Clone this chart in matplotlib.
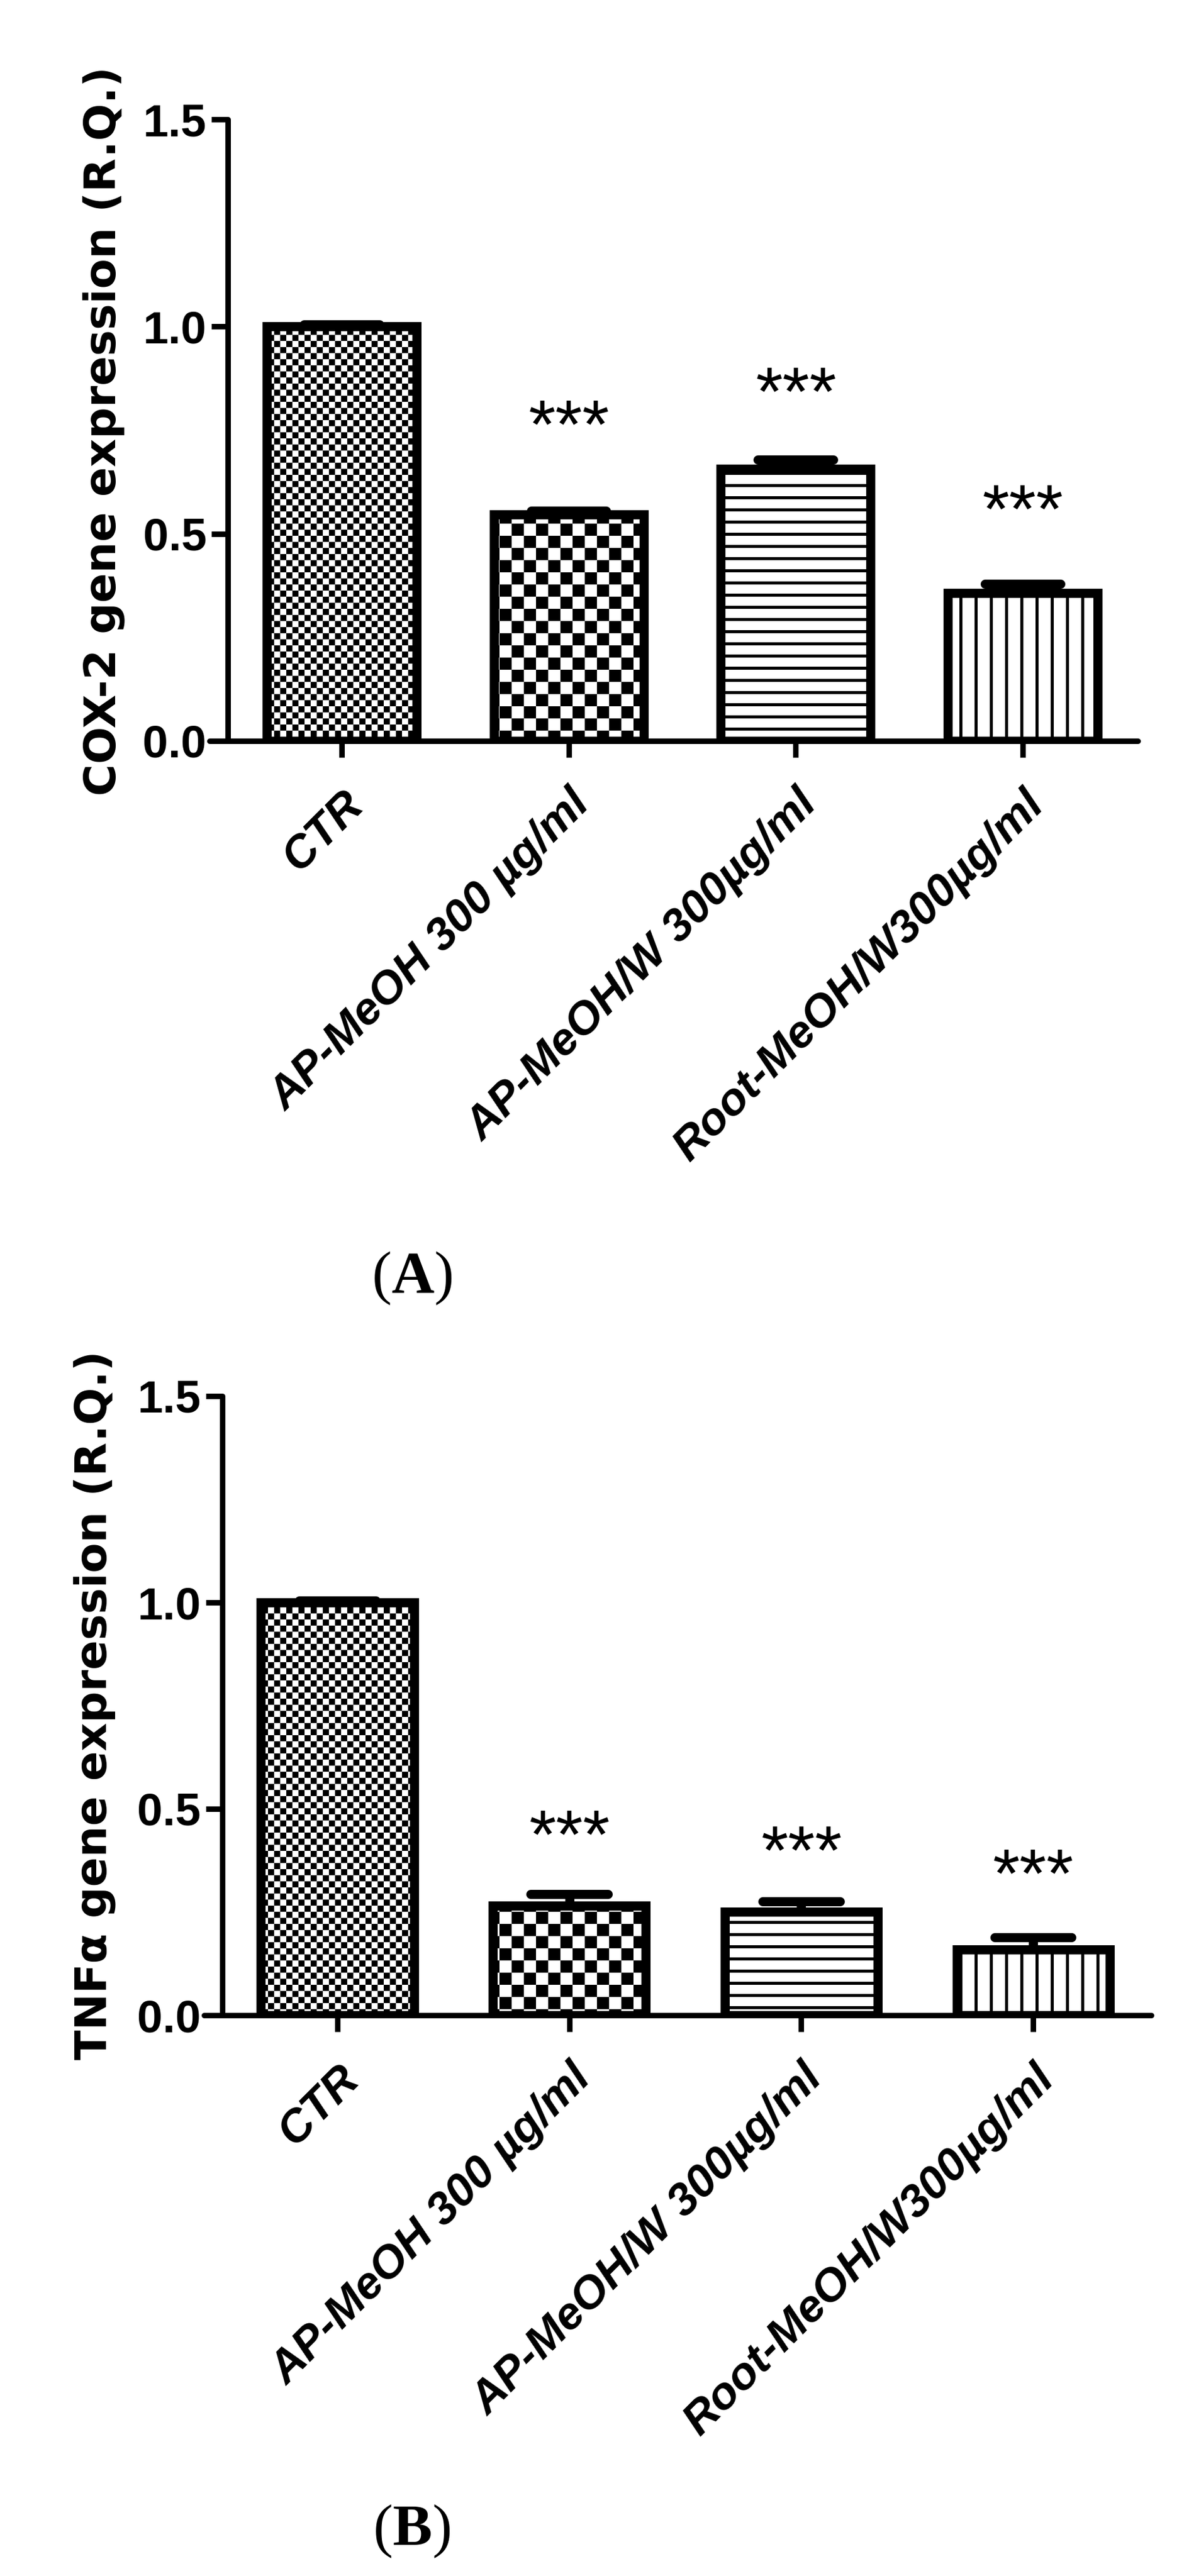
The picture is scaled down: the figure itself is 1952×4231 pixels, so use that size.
import numpy as np
import matplotlib
matplotlib.use('Agg')
import matplotlib.pyplot as plt
import matplotlib.hatch as mhatch
import matplotlib.transforms as mtrans
from matplotlib.path import Path

# data
groups = ['CTR', 'AP-MeOH 300 µg/ml', 'AP-MeOH/W 300µg/ml', 'Root-MeOH/W300µg/ml']
cox2 = [1.0, 0.546, 0.657, 0.357]
cox2_err = [0.005, 0.010, 0.022, 0.022]
cox2_stars = ['', '***', '***', '***']
cox2_star_y = [0, 0.804, 0.884, 0.600]
tnf = [1.0, 0.266, 0.251, 0.159]
tnf_err = [0.005, 0.028, 0.025, 0.030]
tnf_stars = ['', '***', '***', '***']
tnf_star_y = [0, 0.479, 0.440, 0.384]
yticks = [0.0, 0.5, 1.0, 1.5]
patterns = ['x', 'X', '-', '|']


# filled rectangle hatches (checkerboard, lines)
class RectHatch(mhatch.HatchPatternBase):
    char = None

    def __init__(self, hatch, density):
        self.rects = self.make_rects() if self.char in hatch else []
        self.num_vertices = 5 * len(self.rects)

    def set_vertices_and_codes(self, vertices, codes):
        for i, (x0, y0, x1, y1) in enumerate(self.rects):
            vertices[5 * i:5 * i + 5] = [(x0, y0), (x1, y0), (x1, y1), (x0, y1), (x0, y0)]
            codes[5 * i:5 * i + 5] = [Path.MOVETO, Path.LINETO, Path.LINETO,
                                      Path.LINETO, Path.CLOSEPOLY]


def checker(n):
    s = 1.0 / n
    return [(i * s, j * s, (i + 1) * s, (j + 1) * s)
            for i in range(n) for j in range(n) if (i + j) % 2 == 0]


class FineChecker(RectHatch):
    char = 'x'
    def make_rects(self):
        return checker(20)


class CoarseChecker(RectHatch):
    char = 'X'
    def make_rects(self):
        return checker(10)


class HLines(RectHatch):
    char = '-'
    def make_rects(self):
        return [(0, k / 10, 1, k / 10 + 0.025) for k in range(10)]


class VLines(RectHatch):
    char = '|'
    def make_rects(self):
        return [(k / 8, 0, k / 8 + 0.025, 1) for k in range(8)]


mhatch._hatch_types = [FineChecker, CoarseChecker, HLines, VLines]

plt.rcParams['hatch.linewidth'] = 0.0
plt.rcParams['hatch.color'] = 'black'
plt.rcParams['mathtext.fontset'] = 'custom'
plt.rcParams['mathtext.rm'] = 'Liberation Serif'
plt.rcParams['mathtext.bf'] = 'Liberation Serif:bold'

W, H = 1952, 4231
DPI = 200
fig = plt.figure(figsize=(W / DPI, H / DPI), dpi=DPI)

px = 72.0 / DPI  # points per pixel


def panel(box, spine_frac, xlim, vals, errs, stars, star_y, ylabel, ylabel_xy):
    ax = fig.add_axes(box)
    for s in ['top', 'right']:
        ax.spines[s].set_visible(False)
    ax.spines['left'].set_position(('axes', spine_frac))
    for s in ['left', 'bottom']:
        ax.spines[s].set_linewidth(9 * px)
        ax.spines[s].set_capstyle('round')

    x = np.arange(len(vals))
    bars = ax.bar(x, vals, width=0.66, color='white', edgecolor='black',
                  linewidth=15 * px, zorder=3)
    for b, p in zip(bars, patterns):
        b.set_hatch(p)
    top = np.array(vals) + np.array(errs)
    ax.vlines(x, vals, top, color='black', lw=15 * px, zorder=2)
    caps = ax.hlines(top, x - 0.166, x + 0.166, color='black', lw=15 * px, zorder=2)
    caps.set_capstyle('round')
    fs_star = 41
    for xi, s, sy in zip(x, stars, star_y):
        if s:
            ax.annotate(s, xy=(xi, sy), xytext=(0, -0.575 * fs_star),
                        textcoords='offset points', ha='center', va='baseline',
                        fontsize=fs_star, family='Liberation Sans')
    ax.set_xlim(*xlim)
    ax.set_ylim(0, 1.5)
    ax.set_yticks(yticks)
    ax.set_yticklabels(['%.1f' % t for t in yticks], fontsize=27,
                       fontweight='bold', family='Liberation Sans')
    ax.set_xticks(x)
    ax.set_xticklabels(groups, rotation=45, ha='right', rotation_mode='anchor',
                       fontsize=27, fontweight='bold', fontstyle='italic',
                       family='Liberation Sans')
    off = mtrans.ScaledTranslation(12 / DPI, 0, fig.dpi_scale_trans)
    for lab in ax.get_xticklabels():
        lab.set_transform(lab.get_transform() + off)
    ax.tick_params(axis='both', length=27 * px, width=9 * px, color='black')
    ax.tick_params(axis='y', pad=8 * px)
    ax.tick_params(axis='x', pad=42 * px)
    ax.patch.set_visible(False)
    fig.text(ylabel_xy[0] / W, 1 - ylabel_xy[1] / H, ylabel, rotation=90,
             ha='center', va='center', fontsize=72 * px, fontweight='bold',
             family='DejaVu Sans')
    return ax


# panel A
panel([344 / W, 1 - 1217 / H, 1524 / W, 1021 / H], 30 / 1524, (-0.582, 3.507),
      cox2, cox2_err, cox2_stars, cox2_star_y,
      'COX-2 gene expression (R.Q.)', (170, 708))
# panel B
panel([335 / W, 1 - 3310 / H, 1555 / W, 1017 / H], 30 / 1555, (-0.575, 3.509),
      tnf, tnf_err, tnf_stars, tnf_star_y,
      'TNFα gene expression (R.Q.)', (155, 2801))

fig.text(676 / W, 1 - 2100 / H, r'($\mathbf{A}$)', fontsize=35,
         family='Liberation Serif', ha='center', va='center')
fig.text(676 / W, 1 - 4158 / H, r'($\mathbf{B}$)', fontsize=35,
         family='Liberation Serif', ha='center', va='center')

fig.savefig('out.png', dpi=DPI, facecolor='white')
